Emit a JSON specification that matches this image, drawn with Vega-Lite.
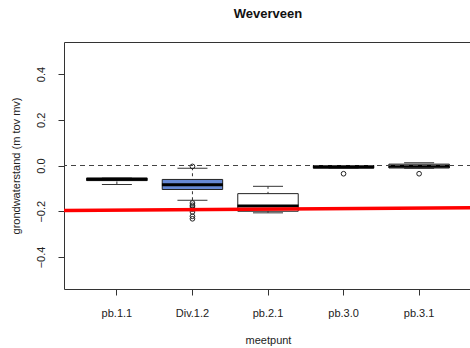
{
  "$schema": "https://vega.github.io/schema/vega-lite/v6.json",
  "width": 408,
  "height": 247,
  "autosize": {"type": "none"},
  "padding": {"left": 64, "top": 42, "right": 0, "bottom": 59},
  "background": "white",
  "title": {"text": "Weverveen", "font": "Liberation Sans", "fontSize": 13, "fontWeight": "bold", "color": "#111", "offset": 21, "anchor": "middle"},
  "config": {
    "view": {"stroke": "#333", "strokeWidth": 1},
    "font": "Liberation Sans",
    "axis": {"labelFont": "Liberation Sans", "titleFont": "Liberation Sans", "labelFontSize": 11, "titleFontSize": 11, "titleFontWeight": "normal", "labelColor": "#222", "titleColor": "#222", "tickColor": "#333", "domain": false, "grid": false, "tickSize": 6}
  },
  "datasets": {
    "boxes": [
      {"meetpunt": "pb.1.1", "lo": -0.083, "q1": -0.066, "median": -0.06, "q3": -0.055, "hi": -0.055},
      {"meetpunt": "Div.1.2", "lo": -0.152, "q1": -0.105, "median": -0.084, "q3": -0.061, "hi": -0.012},
      {"meetpunt": "pb.2.1", "lo": -0.207, "q1": -0.2, "median": -0.177, "q3": -0.123, "hi": -0.091},
      {"meetpunt": "pb.3.0", "lo": -0.012, "q1": -0.012, "median": -0.006, "q3": 0.0, "hi": 0.0},
      {"meetpunt": "pb.3.1", "lo": -0.012, "q1": -0.011, "median": -0.003, "q3": 0.006, "hi": 0.012}
    ],
    "outliers": [
      {"meetpunt": "Div.1.2", "value": -0.004},
      {"meetpunt": "Div.1.2", "value": -0.164},
      {"meetpunt": "Div.1.2", "value": -0.174},
      {"meetpunt": "Div.1.2", "value": -0.181},
      {"meetpunt": "Div.1.2", "value": -0.191},
      {"meetpunt": "Div.1.2", "value": -0.203},
      {"meetpunt": "Div.1.2", "value": -0.222},
      {"meetpunt": "Div.1.2", "value": -0.233},
      {"meetpunt": "pb.3.0", "value": -0.036},
      {"meetpunt": "pb.3.1", "value": -0.036}
    ],
    "ref": [
      {"pos": 0, "value": -0.197},
      {"pos": 1, "value": -0.185}
    ]
  },
  "layer": [
    {
      "layer": [
        {
          "data": {"name": "boxes"},
          "mark": {"type": "rule", "strokeDash": [3, 3], "color": "#333", "strokeWidth": 1, "opacity": 1},
          "encoding": {
            "x": {"field": "meetpunt", "type": "nominal", "sort": null, "scale": {"domain": ["pb.1.1", "Div.1.2", "pb.2.1", "pb.3.0", "pb.3.1"], "paddingInner": 0, "paddingOuter": 0.2}, "axis": {"title": "meetpunt", "labelAngle": 0, "labelPadding": 12, "titlePadding": 16}},
            "y": {"field": "lo", "type": "quantitative", "scale": {"domain": [-0.54, 0.54], "nice": false, "zero": false}, "axis": {"title": "grondwaterstand (m tov mv)", "values": [-0.4, -0.2, 0, 0.2, 0.4], "format": ".1f", "labelAngle": 270, "labelAlign": "center", "labelBaseline": "bottom", "labelPadding": 12, "titlePadding": 14}},
            "y2": {"field": "hi"}
          }
        },
        {
          "data": {"name": "boxes"},
          "mark": {"type": "tick", "orient": "horizontal", "size": 30, "thickness": 1, "color": "#333", "opacity": 1},
          "encoding": {"x": {"field": "meetpunt", "type": "nominal", "sort": null}, "y": {"field": "lo", "type": "quantitative"}}
        },
        {
          "data": {"name": "boxes"},
          "mark": {"type": "tick", "orient": "horizontal", "size": 30, "thickness": 1, "color": "#333", "opacity": 1},
          "encoding": {"x": {"field": "meetpunt", "type": "nominal", "sort": null}, "y": {"field": "hi", "type": "quantitative"}}
        },
        {
          "data": {"name": "boxes"},
          "mark": {"type": "bar", "width": {"band": 0.8}, "stroke": "#222", "strokeWidth": 1, "opacity": 1},
          "encoding": {
            "x": {"field": "meetpunt", "type": "nominal", "sort": null},
            "y": {"field": "q1", "type": "quantitative"},
            "y2": {"field": "q3"},
            "color": {"field": "meetpunt", "type": "nominal", "legend": null, "scale": {"domain": ["pb.1.1", "Div.1.2", "pb.2.1", "pb.3.0", "pb.3.1"], "range": ["#ffffff", "#6688d4", "#ffffff", "#999999", "#ffffff"]}}
          }
        },
        {
          "data": {"name": "boxes"},
          "mark": {"type": "tick", "orient": "horizontal", "size": 61, "thickness": 3, "color": "#000", "opacity": 1},
          "encoding": {"x": {"field": "meetpunt", "type": "nominal", "sort": null}, "y": {"field": "median", "type": "quantitative"}}
        },
        {
          "data": {"name": "outliers"},
          "mark": {"type": "point", "shape": "circle", "filled": false, "size": 22, "color": "#222", "strokeWidth": 1, "opacity": 1},
          "encoding": {"x": {"field": "meetpunt", "type": "nominal", "sort": null}, "y": {"field": "value", "type": "quantitative"}}
        },
        {
          "data": {"values": [{"level": 0}]},
          "mark": {"type": "rule", "strokeDash": [5, 4], "color": "#444", "strokeWidth": 1},
          "encoding": {"y": {"field": "level", "type": "quantitative"}}
        }
      ]
    },
    {
      "data": {"name": "ref"},
      "mark": {"type": "line", "color": "#ff0000", "strokeWidth": 3.5},
      "encoding": {
        "x": {"field": "pos", "type": "quantitative", "scale": {"domain": [0, 1], "nice": false, "zero": false}, "axis": null},
        "y": {"field": "value", "type": "quantitative"}
      }
    }
  ],
  "resolve": {"scale": {"x": "independent"}, "axis": {"x": "independent"}}
}
